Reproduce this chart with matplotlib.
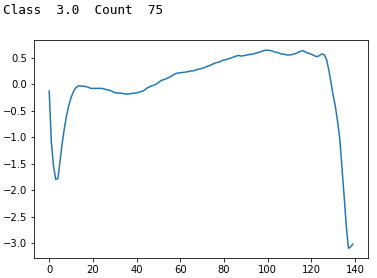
import matplotlib
matplotlib.use("Agg")
import matplotlib.pyplot as plt
import numpy as np

values = [
    -0.13, -1.10, -1.55, -1.80, -1.78, -1.45, -1.10, -0.82, -0.58, -0.40,
    -0.26, -0.15, -0.08, -0.04, -0.03, -0.04, -0.04, -0.05, -0.06, -0.08,
    -0.08, -0.08, -0.08, -0.08, -0.08, -0.09, -0.10, -0.11, -0.12, -0.14,
    -0.16, -0.165, -0.17, -0.17, -0.18, -0.185, -0.19, -0.18, -0.175, -0.17,
    -0.165, -0.155, -0.14, -0.13, -0.10, -0.07, -0.05, -0.03, -0.02, 0.00,
    0.03, 0.06, 0.08, 0.09, 0.11, 0.13, 0.15, 0.18, 0.20, 0.21,
    0.215, 0.22, 0.225, 0.23, 0.24, 0.25, 0.25, 0.265, 0.28, 0.285,
    0.30, 0.31, 0.33, 0.345, 0.36, 0.38, 0.40, 0.41, 0.42, 0.44,
    0.455, 0.465, 0.475, 0.49, 0.505, 0.52, 0.535, 0.54, 0.53, 0.535,
    0.545, 0.555, 0.56, 0.565, 0.575, 0.59, 0.60, 0.615, 0.63, 0.64,
    0.64, 0.635, 0.625, 0.61, 0.60, 0.59, 0.575, 0.565, 0.56, 0.55,
    0.55, 0.555, 0.57, 0.58, 0.60, 0.62, 0.63, 0.615, 0.59, 0.58,
    0.565, 0.545, 0.525, 0.52, 0.55, 0.57, 0.55, 0.46, 0.27, 0.03,
    -0.21, -0.42, -0.70, -1.02, -1.55, -2.10, -2.68, -3.10, -3.07, -3.02,
]
label_class = "3.0"
label_count = "75"

W, H = 377, 278
fig = plt.figure(figsize=(W / 72, H / 72), dpi=72)
ax = fig.add_axes([34 / W, 19.7 / H, 334 / W, 218 / H])
ax.plot(np.arange(len(values)), values, color="#1f77b4", lw=1.5)
ax.tick_params(labelsize=10)

fig.text(3 / W, 1 - 14 / H, f"Class  {label_class}  Count  {label_count}",
         family="DejaVu Sans Mono", fontsize=12.8, va="baseline", ha="left")

fig.savefig("out.png", dpi=72)
